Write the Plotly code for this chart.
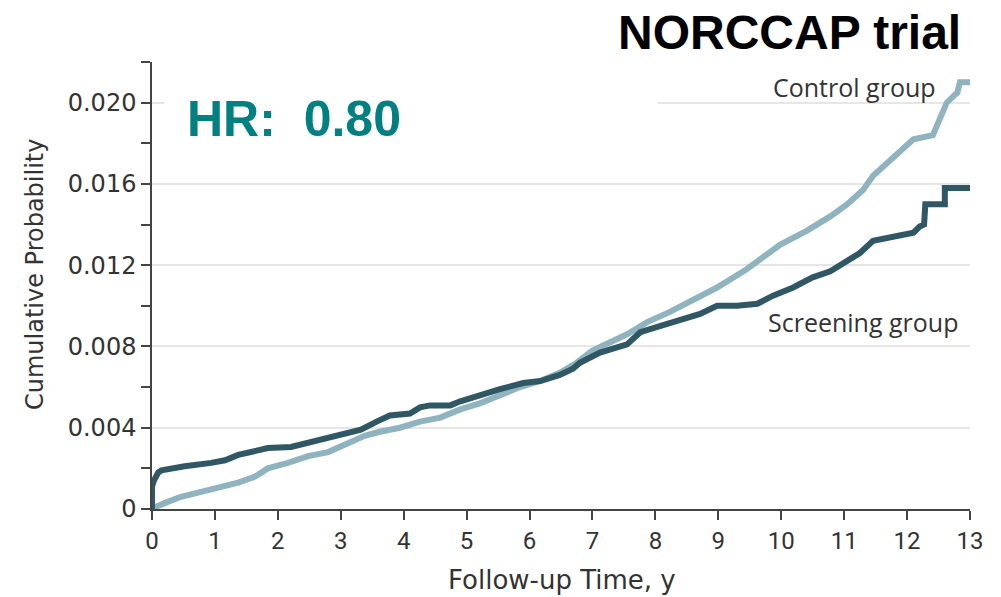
import plotly.graph_objects as go

# ---- data ----
screen_t = [0, 0.0, 0.03, 0.06, 0.1, 0.15, 0.3, 0.52, 0.94, 1.16, 1.37, 1.53, 1.84, 2.21, 2.48,
            2.8, 3.11, 3.32, 3.57, 3.78, 4.1, 4.26, 4.42, 4.74, 4.9, 5.1, 5.26, 5.53, 5.9, 6.17,
            6.48, 6.69, 6.8, 7.12, 7.55, 7.76, 8.07, 8.39, 8.71, 8.98, 9.3, 9.62, 9.87, 10.19,
            10.5, 10.78, 10.98, 11.25, 11.46, 11.78, 12.1, 12.2, 12.27, 12.29, 12.6, 12.6, 13.0]
screen_v = [0, 0.0011, 0.0014, 0.0016, 0.0018, 0.0019, 0.0020, 0.0021, 0.00227, 0.0024, 0.00266,
            0.0028, 0.0030, 0.00305, 0.00325, 0.0035, 0.00374, 0.0039, 0.0043, 0.0046, 0.0047,
            0.0050, 0.0051, 0.0051, 0.0053, 0.0055, 0.0057, 0.0059, 0.0062, 0.0063, 0.0066,
            0.0069, 0.0072, 0.0077, 0.0081, 0.0087, 0.0090, 0.0093, 0.0096, 0.0100, 0.0100,
            0.0101, 0.0105, 0.0109, 0.0114, 0.0117, 0.0121, 0.0126, 0.0132, 0.0134, 0.0136,
            0.0139, 0.0140, 0.0150, 0.0150, 0.0158, 0.0158]

control_t = [0, 0.02, 0.25, 0.46, 0.78, 1.1, 1.37, 1.64, 1.84, 2.16, 2.48, 2.8, 3.11, 3.38, 3.62,
             3.94, 4.26, 4.58, 4.9, 5.21, 5.53, 5.85, 6.17, 6.48, 6.75, 7.0, 7.55, 7.87, 8.23,
             8.6, 8.98, 9.45, 9.66, 9.98, 10.41, 10.78, 11.05, 11.3, 11.46, 11.78, 12.1, 12.41,
             12.52, 12.63, 12.8, 12.84, 13.0]
control_v = [0, 0.00005, 0.00035, 0.0006, 0.00084, 0.0011, 0.0013, 0.0016, 0.0020, 0.00227,
             0.0026, 0.0028, 0.0032, 0.0036, 0.0038, 0.0040, 0.0043, 0.0045, 0.0049, 0.0052,
             0.0056, 0.0060, 0.0063, 0.0067, 0.0072, 0.0078, 0.0086, 0.0092, 0.0097, 0.0103,
             0.0109, 0.0118, 0.0123, 0.0130, 0.0137, 0.0144, 0.0150, 0.0157, 0.0164, 0.0173,
             0.0182, 0.0184, 0.0192, 0.0200, 0.0205, 0.0210, 0.0210]

y_tickvals = [0, 0.004, 0.008, 0.012, 0.016, 0.020]
y_ticktext = ["0", "0.004", "0.008", "0.012", "0.016", "0.020"]
x_tickvals = list(range(0, 14))

assert len(screen_t) == len(screen_v)
assert len(control_t) == len(control_v)

DARK = "#2f5864"
LIGHT = "#8fb3bf"
TXT = "#333333"
AX = "#444444"

fig = go.Figure()
fig.add_trace(go.Scatter(x=control_t, y=control_v, mode="lines", name="Control group",
                         line=dict(color=LIGHT, width=6)))
fig.add_trace(go.Scatter(x=screen_t, y=screen_v, mode="lines", name="Screening group",
                         line=dict(color=DARK, width=6)))

fig.add_shape(type="rect", xref="x", yref="y", x0=0.2, x1=8.04, y0=0.0166, y1=0.0216,
              fillcolor="white", line=dict(width=0), layer="between")

L, R, T, B = 152, 31, 62, 88
W, H = 1001, 597
pw, ph = W - L - R, H - T - B


def px(xp):
    return (xp - L) / pw


def py(yp):
    return (H - B - yp) / ph


ann = [
    dict(text="NORCCAP trial", x=px(963), y=py(33), xanchor="right", yanchor="middle",
         font=dict(family="Liberation Sans, Arial, sans-serif", size=48, color="black", weight="bold")),
    dict(text="HR:\u00a0\u00a00.80", x=px(185), y=py(119), xanchor="left", yanchor="middle",
         font=dict(family="Liberation Sans, Arial, sans-serif", size=50, color="#008080", weight="bold")),
    dict(text="Control group", x=px(938), y=py(87), xanchor="right", yanchor="middle",
         font=dict(family="Open Sans, sans-serif", size=25, color=TXT)),
    dict(text="Screening group", x=px(960), y=py(322), xanchor="right", yanchor="middle",
         font=dict(family="Open Sans, sans-serif", size=25, color=TXT)),
    dict(text="Cumulative Probability", x=px(35), y=py(275), xanchor="center", yanchor="middle",
         textangle=-90, font=dict(family="DejaVu Sans, sans-serif", size=24, color=TXT)),
    dict(text="Follow-up Time, y", x=px(562), y=py(580), xanchor="center", yanchor="middle",
         font=dict(family="DejaVu Sans, sans-serif", size=26, color=TXT)),
]
for a in ann:
    a.update(xref="paper", yref="paper", showarrow=False)

fig.update_layout(
    width=W, height=H,
    margin=dict(l=L, r=R, t=T, b=B),
    paper_bgcolor="white", plot_bgcolor="white",
    showlegend=False,
    annotations=ann,
    xaxis=dict(range=[0, 13], tickmode="array", tickvals=x_tickvals,
               ticks="outside", ticklen=9, tickwidth=1.5, tickcolor=AX,
               showline=True, linecolor=AX, linewidth=1.5,
               showgrid=False, zeroline=False,
               tickfont=dict(family="Roboto, sans-serif", size=24, color=TXT)),
    yaxis=dict(range=[0, 0.022], tickmode="array", tickvals=y_tickvals, ticktext=y_ticktext,
               ticks="outside", ticklen=9, tickwidth=1.5, tickcolor=AX,
               showline=True, linecolor=AX, linewidth=1.5,
               showgrid=True, gridcolor="#e6e6e6", gridwidth=1.5, zeroline=False,
               minor=dict(tickmode="linear", tick0=0, dtick=0.002, ticks="outside",
                          ticklen=9, tickwidth=1.5, tickcolor=AX, showgrid=False),
               tickfont=dict(family="DejaVu Sans, sans-serif", size=24, color=TXT)),
)

fig.write_html("out.html")
